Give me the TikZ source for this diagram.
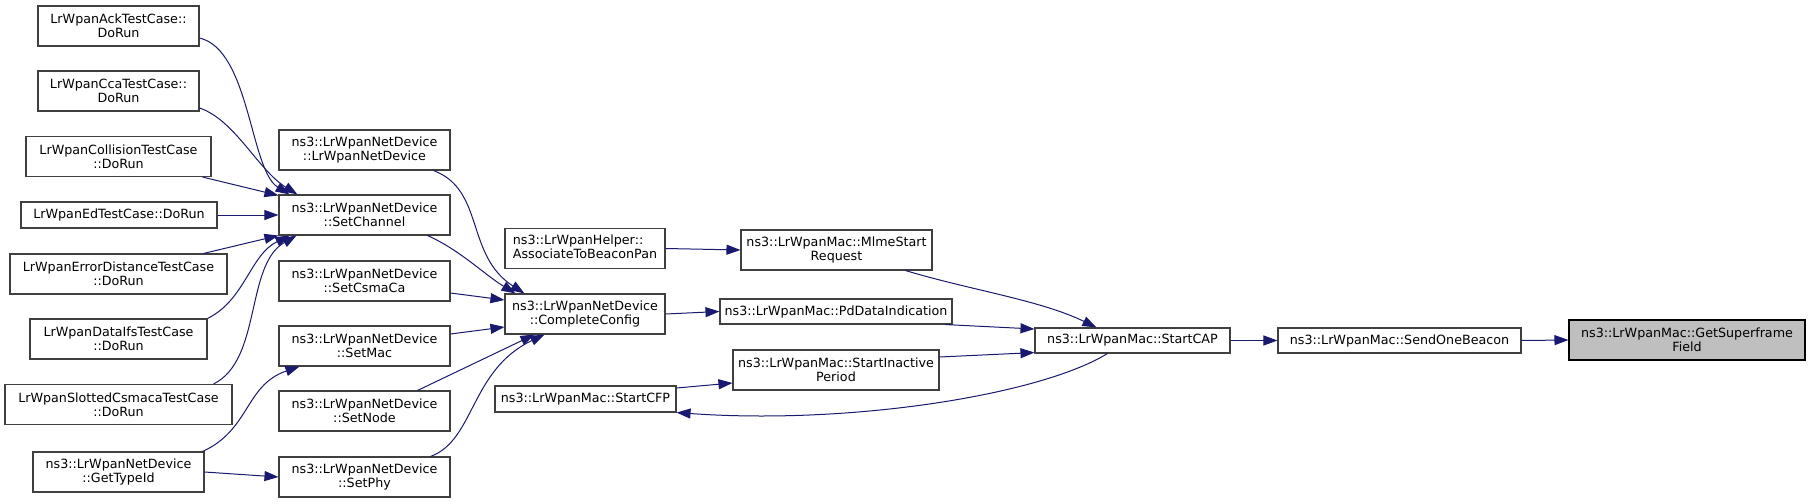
\documentclass[tikz,border=0pt]{standalone}
\usepackage{fontspec}
\setmainfont{DejaVu Sans}
\usepackage{tikz}
\usetikzlibrary{arrows.meta,positioning}
\definecolor{Edge}{HTML}{191970}
\definecolor{Frame}{HTML}{404040}
\definecolor{Mark}{HTML}{BFBFBF}
\tikzset{
  fnbox/.style={draw=Frame, line width=1.1pt, fill=white, align=center,
                inner sep=0pt, minimum height=40pt,
                font=\fontsize{12.7}{14}\selectfont},
  fnline/.style={fnbox, minimum height=26pt},
  hlbox/.style={fnbox, fill=Mark, draw=black},
  call/.style={-{Triangle[length=14pt,width=10pt]}, line width=1pt, draw=Edge},
}
\begin{document}
\begin{tikzpicture}[x=1pt, y=-1pt]
  \path[fill=white, use as bounding box] (0,0) rectangle (1811,503);
  % test cases on the left
  \node[fnbox, minimum width=161pt] (ack) at (118.5,26) {LrWpanAckTestCase::\\DoRun};
  \node[fnbox, minimum width=161pt] (cca) at (118.5,91) {LrWpanCcaTestCase::\\DoRun};
  \node[fnbox, minimum width=185pt] (coll) at (118.5,156.5) {LrWpanCollisionTestCase\\::DoRun};
  \node[fnline, minimum width=196pt] (ed) at (119,215) {LrWpanEdTestCase::DoRun};
  \node[fnbox, minimum width=217pt] (errd) at (118.5,274) {LrWpanErrorDistanceTestCase\\::DoRun};
  \node[fnbox, minimum width=177pt] (dataifs) at (118.5,339) {LrWpanDataIfsTestCase\\::DoRun};
  \node[fnbox, minimum width=227pt] (slotted) at (118.5,404.5) {LrWpanSlottedCsmacaTestCase\\::DoRun};
  \node[fnbox, minimum width=171pt] (typeid) at (118.5,472) {ns3::LrWpanNetDevice\\::GetTypeId};
  % net device
  \node[fnbox, minimum width=171pt] (ctor) at (364.5,150) {ns3::LrWpanNetDevice\\::LrWpanNetDevice};
  \node[fnbox, minimum width=171pt] (setchan) at (364.5,215) {ns3::LrWpanNetDevice\\::SetChannel};
  \node[fnbox, minimum width=171pt] (setcsma) at (364.5,281) {ns3::LrWpanNetDevice\\::SetCsmaCa};
  \node[fnbox, minimum width=171pt] (setmac) at (364.5,346) {ns3::LrWpanNetDevice\\::SetMac};
  \node[fnbox, minimum width=171pt] (setnode) at (364.5,411) {ns3::LrWpanNetDevice\\::SetNode};
  \node[fnbox, minimum width=171pt] (setphy) at (364.5,477) {ns3::LrWpanNetDevice\\::SetPhy};
  \node[fnbox, minimum width=160pt] (assoc) at (585,248.5) {\begin{tabular}{@{}l@{}}ns3::LrWpanHelper::\\AssociateToBeaconPan\end{tabular}};
  \node[fnbox, minimum width=160pt] (compl) at (585,314) {ns3::LrWpanNetDevice\\::CompleteConfig};
  \node[fnline, minimum width=181pt] (cfp) at (585.5,399) {ns3::LrWpanMac::StartCFP};
  % mac
  \node[fnbox, minimum width=191pt] (mlme) at (836.5,250) {ns3::LrWpanMac::MlmeStart\\Request};
  \node[fnline, minimum width=232pt, minimum height=25pt] (pddata) at (836,311.5) {ns3::LrWpanMac::PdDataIndication};
  \node[fnbox, minimum width=206pt] (inactive) at (836,370) {ns3::LrWpanMac::StartInactive\\Period};
  \node[fnline, minimum width=195pt, minimum height=25pt] (startcap) at (1132.5,340.5) {ns3::LrWpanMac::StartCAP};
  \node[fnline, minimum width=243pt, minimum height=25pt] (sendone) at (1399.5,340.5) {ns3::LrWpanMac::SendOneBeacon};
  \node[hlbox, minimum width=236pt] (getsf) at (1687,340) {ns3::LrWpanMac::GetSuperframe\\Field};

  \draw[call] ([yshift=-12pt]ack.east) .. controls (250,50) and (250,170) .. ([xshift=11pt]setchan.north west);
  \draw[call] ([yshift=-17pt]cca.east) .. controls (235,120) and (258,170) .. ([xshift=19pt]setchan.north west);
  \draw[call] ([xshift=-9pt]coll.south east) -- ([yshift=-1pt]setchan.north west);
  \draw[call] (ed.east) -- (setchan.west);
  \draw[call] ([xshift=-24pt]errd.north east) -- (setchan.south west);
  \draw[call] (dataifs.north east) .. controls (245,300) and (250,255) .. ([xshift=11pt]setchan.south west);
  \draw[call] ([xshift=-19pt]slotted.north east) .. controls (262,360) and (245,265) .. ([xshift=18pt]setchan.south west);
  \draw[call] ([xshift=-2pt]typeid.north east) .. controls (250,430) and (245,385) .. ([xshift=21pt]setmac.south west);
  \draw[call] (typeid.east) -- (setphy.west);

  \draw[call] ([xshift=-17pt]ctor.south east) .. controls (485,190) and (465,255) .. ([xshift=20pt]compl.north west);
  \draw[call] ([xshift=-23pt]setchan.south east) .. controls (460,250) and (485,275) .. ([xshift=11pt]compl.north west);
  \draw[call] ([yshift=-12pt]setcsma.east) -- ([yshift=14pt]compl.west);
  \draw[call] ([yshift=12pt]setmac.east) -- ([yshift=-13pt]compl.west);
  \draw[call] ([xshift=-33pt]setnode.north east) -- ([xshift=30pt]compl.south west);
  \draw[call] ([xshift=-20pt]setphy.north east) .. controls (475,440) and (470,370) .. ([xshift=40pt]compl.south west);

  \draw[call] (assoc.east) -- (mlme.west);
  \draw[call] (compl.east) -- (pddata.west);
  \draw[call] ([xshift=-27pt]mlme.south east) .. controls (970,290) and (1040,300) .. ([xshift=62pt]startcap.north west);
  \draw[call] ([xshift=-7pt]pddata.south east) -- ([yshift=11.5pt]startcap.west);
  \draw[call] ([yshift=13pt]inactive.east) -- ([yshift=1pt]startcap.south west);
  \draw[call] ([xshift=73pt]startcap.south west) .. controls (1040,395) and (850,425) .. (cfp.south east);
  \draw[call] ([yshift=11pt]cfp.east) -- ([yshift=-13pt]inactive.west);
  \draw[call] (startcap.east) -- (sendone.west);
  \draw[call] (sendone.east) -- (getsf.west);
\end{tikzpicture}
\end{document}
